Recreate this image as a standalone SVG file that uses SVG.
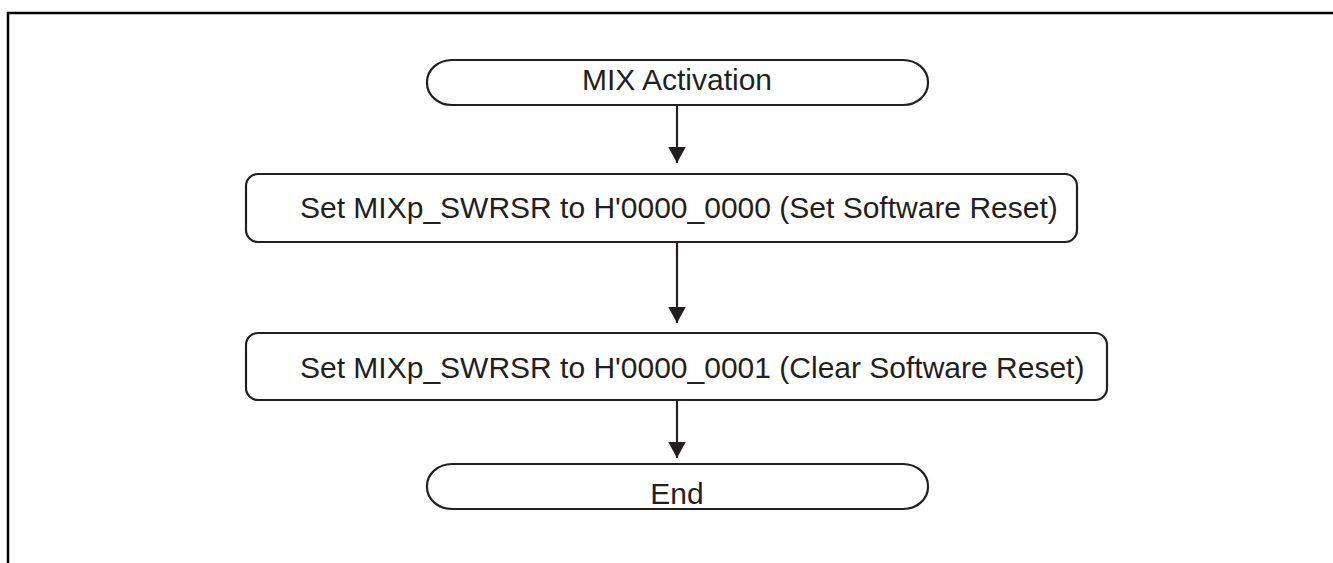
<svg xmlns="http://www.w3.org/2000/svg" width="1333" height="563" viewBox="0 0 1333 563">
<style>
.shape{fill:#fff;stroke:#231f20;stroke-width:2.2}
.lbl{font-family:"Liberation Sans",Arial,sans-serif;font-size:30px;fill:#231f20}
.conn{stroke:#231f20;stroke-width:2.2;fill:none}
</style>
<defs>
<marker id="ah" markerWidth="8" markerHeight="8" refX="7.3" refY="4" orient="auto" markerUnits="strokeWidth">
<path d="M0,0 L7.3,4 L0,8 Z" fill="#231f20"/>
</marker>
</defs>
<rect width="1333" height="563" fill="#fff"/>
<g id="frame">
<path d="M8,563 L8,13 L1333,13" fill="none" stroke="#000" stroke-width="2.5"/>
</g>
<g id="connectors">
<line class="conn" x1="677" y1="105" x2="677" y2="163" marker-end="url(#ah)"/>
<line class="conn" x1="677" y1="242" x2="677" y2="323" marker-end="url(#ah)"/>
<line class="conn" x1="677" y1="400" x2="677" y2="458" marker-end="url(#ah)"/>
</g>
<g id="start">
<rect class="shape" x="427" y="60" width="501" height="45" rx="25" ry="22"/>
<text class="lbl" x="677" y="90" text-anchor="middle">MIX Activation</text>
</g>
<g id="step1">
<rect class="shape" x="246" y="174" width="831" height="68" rx="12"/>
<text class="lbl" x="300" y="218">Set MIXp_SWRSR to H'0000_0000 (Set Software Reset)</text>
</g>
<g id="step2">
<rect class="shape" x="246" y="333" width="861" height="67" rx="12"/>
<text class="lbl" x="300" y="378">Set MIXp_SWRSR to H'0000_0001 (Clear Software Reset)</text>
</g>
<g id="end">
<rect class="shape" x="427" y="464" width="501" height="45" rx="25" ry="22"/>
<text class="lbl" x="677" y="504" text-anchor="middle">End</text>
</g>
</svg>
